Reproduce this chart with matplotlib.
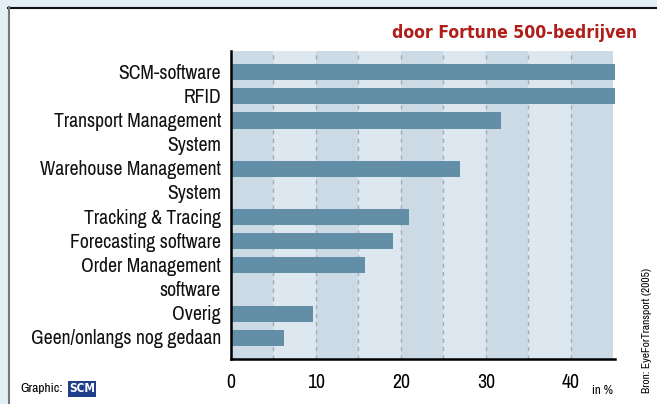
import matplotlib
matplotlib.use("Agg")
import matplotlib.pyplot as plt
from matplotlib.patches import Rectangle
import matplotlib.transforms as mtransforms

categories = ["SCM-software", "RFID", "Transport Management\nSystem",
              "Warehouse Management\nSystem", "Tracking & Tracing",
              "Forecasting software", "Order Management\nsoftware",
              "Overig", "Geen/onlangs nog gedaan"]
values = [48, 48, 31.8, 26.9, 20.9, 19.1, 15.8, 9.6, 6.2]
xticks = [0, 10, 20, 30, 40]

FONT = ['Archivo Narrow', 'DejaVu Sans']
TFONT = ['DejaVu Sans']
ST = 'condensed'

W, H = 657, 404
fig = plt.figure(figsize=(W / 100, H / 100), dpi=100)
fig.patch.set_facecolor('white')
renderer = fig.canvas.get_renderer()


def fit(txt, width_px, horizontal=True):
    """Scale a text's font size so its drawn extent matches width_px."""
    for _ in range(3):
        bb = txt.get_window_extent(renderer)
        cur = bb.width if horizontal else bb.height
        txt.set_fontsize(txt.get_fontsize() * width_px / cur)
    return txt.get_fontsize()


fig.add_artist(Rectangle((0, 1 - 7 / H), 1, 7 / H, transform=fig.transFigure,
                         facecolor='#e3eef5', edgecolor='none'))
fig.add_artist(Rectangle((0, 0), 8 / W, 1, transform=fig.transFigure,
                         facecolor='#e3eef5', edgecolor='none'))
fig.add_artist(plt.Line2D([8 / W, 1], [1 - 7.5 / H, 1 - 7.5 / H], color='#111111', lw=1.5))
fig.add_artist(plt.Line2D([8.5 / W, 8.5 / W], [0, 1 - 7 / H], color='#777777', lw=1.5))

ax = fig.add_axes([231 / W, 45 / H, (615 - 231) / W, 308 / H])
ax.set_facecolor('none')

xmax = 45.2
ax.set_xlim(0, xmax)

positions = []
slot = 0
for c in categories:
    positions.append(slot)
    slot += len(c.split("\n"))
nslots = slot
ax.set_ylim(nslots - 1 + 0.875, -0.875)

for i, x0 in enumerate(range(0, 45, 5)):
    ax.axvspan(x0, min(x0 + 5, xmax), color='#cbdae5' if i % 2 == 0 else '#dde7ef', zorder=0, lw=0)
for x0 in range(5, 45, 5):
    ax.axvline(x0, color='#a3abb3', lw=1, ls=(0, (3, 3)), zorder=1)

ax.barh(positions, values, height=0.667, color='#628ea8', zorder=2)

probe = fig.text(0, 0, "Transport Management", family=FONT, stretch=ST, fontsize=13)
lab_fs = fit(probe, 169)
probe.remove()

lab_tr = mtransforms.offset_copy(ax.transData, fig=fig, x=-10, y=0, units='dots')
for p, c in zip(positions, categories):
    for k, line in enumerate(c.split("\n")):
        ax.text(0, p + k + 0.04, line, ha='right', va='center', fontsize=lab_fs, family=FONT,
                stretch=ST, color='#111111', transform=lab_tr, clip_on=False)

ax.set_yticks([])
ax.set_xticks(xticks)
ax.set_xticklabels([str(t) for t in xticks], family=FONT, fontsize=lab_fs, stretch=ST)
ax.tick_params(axis='x', length=0, pad=10)
for s in ['top', 'right']:
    ax.spines[s].set_visible(False)
for s in ['left', 'bottom']:
    ax.spines[s].set_linewidth(1.8)
    ax.spines[s].set_zorder(3)

t = fig.text(637 / W, 1 - 38 / H, "door Fortune 500-bedrijven", ha='right', va='baseline',
             fontsize=14, fontweight='bold', color='#b01e1a', family=TFONT, stretch=ST)
fit(t, 244)
t = fig.text(592 / W, 1 - 391 / H, "in %", ha='left', va='center', fontsize=9, family=FONT, stretch=ST)
fit(t, 21)
t = fig.text(20 / W, 1 - 389 / H, "Graphic:", ha='left', va='center', fontsize=9, family=FONT, stretch=ST)
fit(t, 43)
fig.text(69 / W, 1 - 389 / H, "SCM", ha='left', va='center', fontsize=8.5, family=TFONT,
         fontweight='bold', color='white', stretch=ST,
         bbox=dict(boxstyle='square,pad=0.12', fc='#1f3f8a', ec='none'))
t = fig.text(647 / W, 1 - 393 / H, "Bron: EyeForTransport (2005)", ha='center', va='bottom',
             rotation=90, fontsize=8, family=FONT, stretch=ST)
fit(t, 125, horizontal=False)

fig.savefig("out.png", dpi=100, facecolor=fig.get_facecolor())
